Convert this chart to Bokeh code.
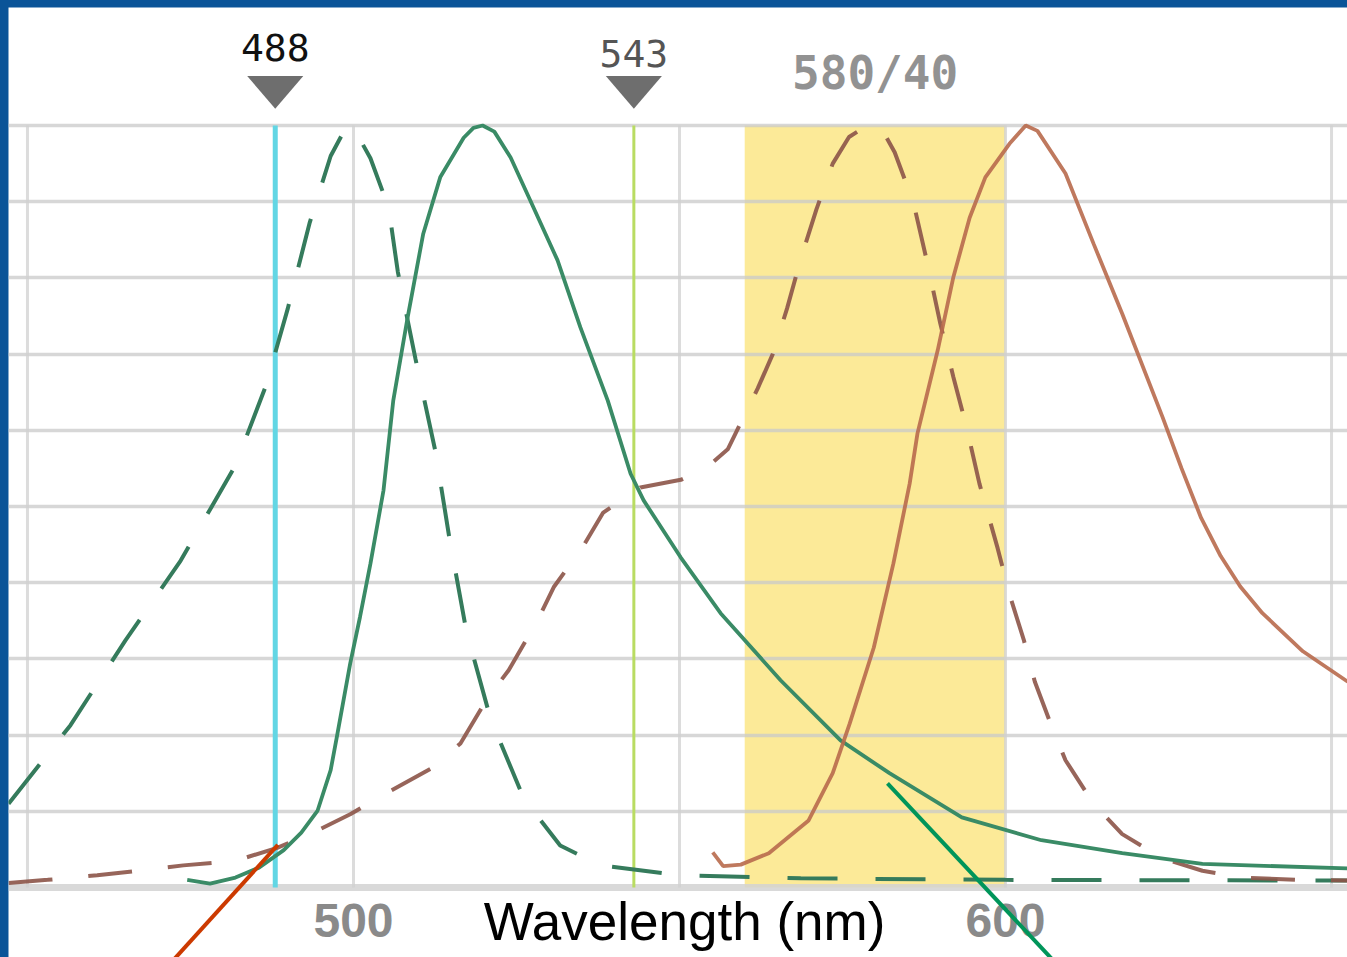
from bokeh.plotting import figure
from bokeh.models import Range1d, GlobalInlineStyleSheet
from bokeh.core.properties import value
from bokeh.embed import file_html
from bokeh.resources import INLINE

# ---------------- data ----------------
# green dye excitation (dashed)
green_ex_nm = [447.1, 456.6, 465.0, 473.5, 481.9, 486.5, 489.9, 493.3, 496.5, 499.0,
               500.6, 502.6, 505.4, 506.8, 509.5, 512.6, 514.7, 517.3, 521.0, 526.1,
               531.7, 537.9, 550.2, 568.6, 600.0, 652.5]
green_ex_val = [11.0, 21.3, 32.4, 42.9, 55.4, 65.7, 75.9, 87.3, 96.0, 100.0,
                98.8, 95.7, 89.2, 80.8, 69.4, 57.1, 45.9, 33.7, 22.2, 11.7,
                5.5, 2.9, 1.6, 1.2, 1.0, 0.9]

# green dye emission (solid)
green_em_nm = [474.5, 478.0, 481.9, 485.5, 489.3, 492.0, 494.5, 496.5, 497.5, 499.5,
               501.0, 502.6, 504.6, 506.1, 508.3, 510.7, 513.3, 516.9, 518.4, 519.8,
               521.6, 524.1, 527.1, 531.3, 534.8, 539.0, 542.5, 544.5, 550.2, 556.3,
               565.5, 574.7, 582.2, 593.3, 605.5, 617.9, 630.2, 652.5]
green_em_val = [1.0, 0.5, 1.3, 2.6, 4.9, 7.2, 10.1, 15.4, 20.0, 29.4,
                35.5, 42.5, 52.1, 63.9, 74.8, 85.8, 93.2, 98.4, 99.7, 100.0,
                99.2, 95.8, 90.2, 82.3, 73.5, 63.9, 54.3, 50.8, 43.3, 36.0,
                27.2, 19.3, 15.0, 9.2, 6.2, 4.5, 3.1, 2.5]

# red dye excitation (dashed)
red_ex_nm = [447.1, 453.1, 460.7, 467.0, 473.9, 481.9, 488.3, 494.5, 499.5, 504.9,
             512.1, 516.4, 520.6, 523.8, 528.2, 530.7, 535.3, 538.3, 544.0, 550.2,
             554.0, 557.4, 559.4, 562.0, 564.3, 566.5, 568.6, 571.0, 573.5, 576.0,
             578.8, 581.5, 583.0, 585.9, 588.0, 590.0, 592.0, 594.0, 596.0, 598.8,
             600.6, 602.8, 604.5, 606.7, 609.2, 613.5, 617.9, 624.1, 630.2, 636.3,
             645.0, 652.5]
red_ex_val = [0.6, 1.0, 1.6, 2.2, 2.9, 3.5, 5.2, 7.5, 9.6, 12.3,
              15.7, 18.9, 24.9, 28.5, 35.0, 39.4, 44.9, 49.2, 52.5, 53.5,
              55.0, 57.5, 61.0, 65.5, 70.0, 76.0, 82.5, 89.0, 95.0, 98.5,
              100.0, 98.8, 96.5, 89.8, 82.0, 74.0, 67.0, 60.5, 53.0, 44.5,
              38.5, 32.5, 27.0, 22.0, 16.7, 11.0, 7.0, 3.8, 2.2, 1.3,
              1.0, 0.9]

# red dye emission (solid)
red_em_nm = [555.1, 556.7, 559.4, 563.7, 569.8, 573.5, 576.1, 579.8, 582.8, 585.3,
             586.5, 589.6, 592.0, 594.5, 596.9, 600.6, 603.1, 604.9, 609.2, 613.5,
             617.9, 624.1, 627.0, 630.0, 633.0, 636.0, 639.4, 645.6, 652.5]
red_em_val = [4.6, 2.8, 3.0, 4.5, 8.8, 15.0, 21.5, 31.5, 42.5, 53.0,
              59.6, 70.5, 80.1, 87.9, 93.2, 97.6, 100.0, 99.3, 93.7, 84.5,
              75.3, 61.7, 55.0, 48.5, 43.5, 39.5, 36.0, 31.0, 27.0]

lasers = [488, 543]
laser_labels = ["488", "543"]
filter_center = 580
filter_width = 40
filter_label = "580/40"

x_tick_values = [500, 600]
x_tick_labels = ["500", "600"]
grid_x = [450, 500, 550, 600, 650]
grid_y = [0, 10, 20, 30, 40, 50, 60, 70, 80, 90, 100]
x_title = "Wavelength (nm)"

# pointer lines (annotation), in data units
red_pointer = [(472.3, -9.6), (488.4, 5.6)]
green_pointer = [(581.9, 13.65), (607.35, -9.6)]

# ---------------- figure ----------------
p = figure(width=1339, height=950, output_backend="svg", toolbar_location=None,
           x_range=Range1d(447.09, 652.45), y_range=Range1d(-9.19, 115.49),
           x_axis_location=None, y_axis_location=None, min_border=0,
           outline_line_color=None, background_fill_color="white",
           border_fill_color="white")
p.grid.visible = False
p.stylesheets = [GlobalInlineStyleSheet(
    css="html,body{margin:0;padding:0;background:#0a5498;overflow:hidden;}"
        "body{padding:7px 0 0 8px;}")]

# filter band
p.quad(left=[filter_center - filter_width / 2], right=[filter_center + filter_width / 2],
       bottom=[0], top=[100], fill_color="#fcea98", line_color=None)

# grid
p.hspan(y=grid_y[1:], line_color="#c9c9c9", line_alpha=0.75, line_width=3.5)
p.hspan(y=[grid_y[0]], line_color="#d2d2d2", line_alpha=0.85, line_width=7)
p.segment(x0=grid_x, y0=[0] * len(grid_x), x1=grid_x, y1=[100] * len(grid_x),
          line_color="#d0d0d0", line_alpha=0.75, line_width=3)

# laser lines
p.segment(x0=[lasers[0]], y0=[0], x1=[lasers[0]], y1=[100], line_color="#62d6e4", line_width=5)
p.segment(x0=[lasers[1]], y0=[0], x1=[lasers[1]], y1=[100], line_color="#b9dc62", line_width=3)

# spectra
p.line(green_ex_nm, green_ex_val, line_color="#357b5c", line_width=4, line_dash="50 38")
p.line(red_ex_nm, red_ex_val, line_color="#8c5448", line_alpha=0.9, line_width=4, line_dash="44 36")
p.line(green_em_nm, green_em_val, line_color="#3a8b66", line_width=3.8)
p.line(red_em_nm, red_em_val, line_color="#b86a4c", line_alpha=0.9, line_width=3.8)

# laser markers (triangles) and labels
tri_half = 4.3
p.patches(xs=[[l - tri_half, l + tri_half, l] for l in lasers],
          ys=[[106.5, 106.5, 102.2] for _ in lasers],
          fill_color="#6e6e6e", line_color=None)
p.text(x=lasers, y=[110.2, 109.4], text=laser_labels, text_align="center",
       text_baseline="middle", text_font=value("DejaVu Sans Mono"),
       text_font_size="38px", text_color=["#111111", "#555555"])
p.text(x=[filter_center], y=[106.9], text=[filter_label], text_align="center",
       text_baseline="middle", text_font=value("DejaVu Sans Mono"),
       text_font_style="bold", text_font_size="46px", text_color="#929292")

# axis labels
p.text(x=x_tick_values, y=[-4.33] * 2, text=x_tick_labels, text_align="center",
       text_baseline="middle", text_font=value("Liberation Sans"),
       text_font_style="bold", text_font_size="48px", text_color="#8a8a8a")
p.text(x=[550.77], y=[-4.46], text=[x_title], text_align="center",
       text_baseline="middle", text_font=value("Liberation Sans"),
       text_font_size="53px", text_color="#000000")

# pointer lines
p.segment(x0=[red_pointer[0][0]], y0=[red_pointer[0][1]], x1=[red_pointer[1][0]],
          y1=[red_pointer[1][1]], line_color="#cc3a00", line_width=4)
p.segment(x0=[green_pointer[0][0]], y0=[green_pointer[0][1]], x1=[green_pointer[1][0]],
          y1=[green_pointer[1][1]], line_color="#00955a", line_width=4)

open("out.html", "w").write(file_html(p, INLINE))
